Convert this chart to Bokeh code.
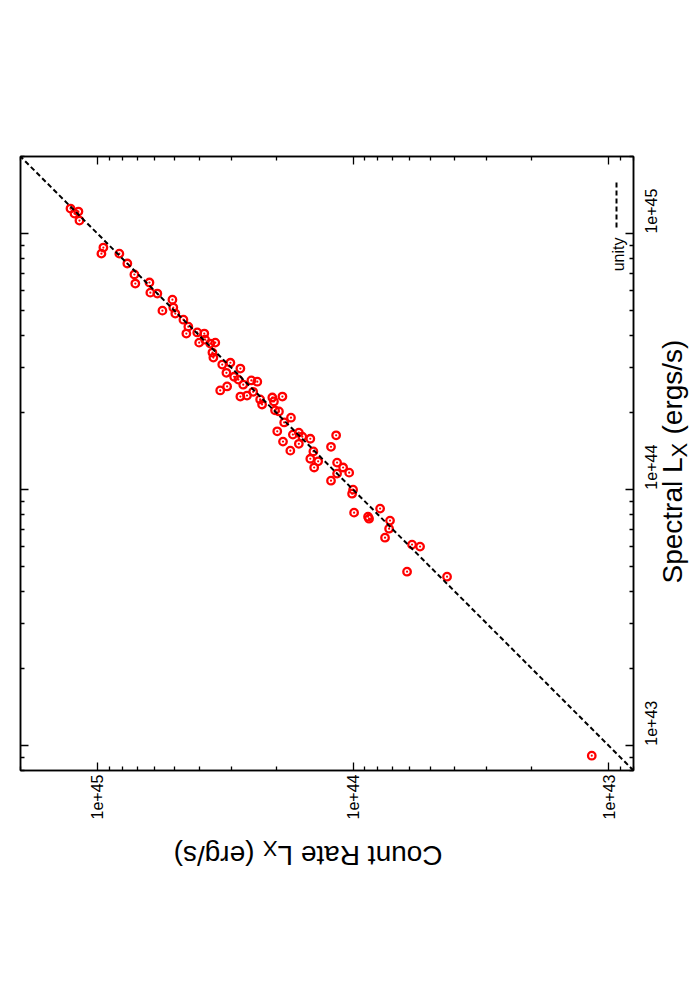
import math
from bokeh.plotting import figure
from bokeh.layouts import row, column
from bokeh.models import (Range1d, LogAxis, FixedTicker, CustomJSTickFormatter,
                          Label, Arrow)
from bokeh.embed import file_html
from bokeh.resources import INLINE

# ---- data (erg/s) ----
spectral_lx = [12.52e44, 11.97e44, 12.19e44, 11.24e44, 8.82e44, 8.35e44, 8.35e44, 7.64e44,
               6.92e44, 6.38e44, 6.44e44, 5.88e44, 5.83e44, 5.52e44, 5.00e44, 5.14e44,
               4.87e44, 4.61e44, 4.33e44, 4.07e44, 4.11e44, 4.07e44, 3.85e44, 3.75e44,
               3.72e44, 3.75e44, 3.43e44, 3.28e44, 3.08e44, 3.13e44, 2.97e44, 2.86e44,
               2.76e44, 2.44e44, 2.53e44, 2.69e44, 2.57e44, 2.67e44, 2.64e44, 2.33e44,
               2.31e44, 2.41e44, 2.15e44, 2.25e44, 2.29e44, 2.21e44, 2.31e44, 2.04e44,
               2.02e44, 1.91e44, 1.83e44, 1.69e44, 1.64e44, 1.67e44, 1.61e44, 1.58e44,
               1.54e44, 1.51e44, 1.42e44, 1.41e44, 1.32e44, 1.29e44, 1.22e44, 1.63e44,
               1.47e44, 1.275e44, 1.22e44, 1.165e44, 1.155e44, 1.084e44, 1.00e44, 0.964e44,
               0.813e44, 0.784e44, 0.770e44, 0.843e44, 0.757e44, 0.704e44, 0.649e44, 0.610e44,
               0.599e44, 0.478e44, 0.457e44, 0.0914e44]
count_rate_lx = [12.75e44, 12.30e44, 11.87e44, 11.76e44, 9.48e44, 9.65e44, 8.21e44, 7.64e44,
                 7.17e44, 7.11e44, 6.26e44, 6.21e44, 5.83e44, 5.09e44, 5.57e44, 5.05e44,
                 4.96e44, 4.61e44, 4.41e44, 4.49e44, 4.07e44, 3.82e44, 3.79e44, 4.00e44,
                 3.62e44, 3.46e44, 3.55e44, 3.52e44, 3.25e44, 3.02e44, 2.76e44, 3.13e44,
                 2.92e44, 3.31e44, 3.11e44, 2.81e44, 2.69e44, 2.50e44, 2.37e44, 2.60e44,
                 2.76e44, 2.46e44, 2.27e44, 2.31e44, 2.07e44, 2.04e44, 1.89e44, 2.02e44,
                 1.95e44, 1.75e44, 1.86e44, 1.98e44, 1.72e44, 1.63e44, 1.58e44, 1.47e44,
                 1.88e44, 1.63e44, 1.76e44, 1.43e44, 1.47e44, 1.37e44, 1.42e44, 1.165e44,
                 1.22e44, 1.155e44, 1.094e44, 1.036e44, 1.155e44, 1.22e44, 1.00e44, 1.009e44,
                 0.991e44, 0.874e44, 0.866e44, 0.784e44, 0.717e44, 0.723e44, 0.750e44, 0.588e44,
                 0.547e44, 0.615e44, 0.429e44, 0.1165e44]
unity = [8.0e42, 2.0e45]
axis_min, axis_max = 8.0e42, 2.0e45
major_ticks = [1e43, 1e44, 1e45]
minor_ticks = [k * 10.0 ** d for d in (42, 43, 44, 45) for k in range(2, 10)]

FONT = "Liberation Sans"
RIGHT_BORDER = 64          # p canvas = 20 + 613 + 64 = 697 wide
BOTTOM_BORDER = 56         # p canvas = 156 + 614 + 56 = 826 tall
TITLE_LEFT = 650           # page x where the right title panel starts

p = figure(frame_width=613, frame_height=614,
           x_axis_type="log", y_axis_type="log",
           x_axis_location="below", y_axis_location="right",
           x_range=Range1d(axis_max, axis_min), y_range=Range1d(axis_min, axis_max),
           min_border_left=20, min_border_top=156, min_border_right=RIGHT_BORDER,
           min_border_bottom=BOTTOM_BORDER, output_backend="svg", toolbar_location=None,
           background_fill_color="white", border_fill_color="white")
p.xgrid.grid_line_color = None
p.ygrid.grid_line_color = None
p.outline_line_color = "black"
p.outline_line_width = 1.5

fmt = CustomJSTickFormatter(code="return tick.toExponential(0);")
blank = CustomJSTickFormatter(code="return '';")


def style_axis(ax, standoff, labels=True):
    ax.ticker = FixedTicker(ticks=major_ticks, minor_ticks=minor_ticks)
    ax.formatter = fmt if labels else blank
    ax.axis_line_color = "black"
    ax.axis_line_width = 1.5
    ax.major_tick_in = 8
    ax.major_tick_out = 0
    ax.minor_tick_in = 4
    ax.minor_tick_out = 0
    ax.major_tick_line_width = 1.3
    ax.minor_tick_line_width = 1.3
    ax.major_tick_line_color = "black"
    ax.minor_tick_line_color = "black"
    ax.major_label_orientation = math.pi / 2
    ax.major_label_text_font = FONT
    ax.major_label_text_color = "black"
    ax.major_label_text_font_size = "16px"
    ax.major_label_standoff = standoff


style_axis(p.xaxis[0], 4)
style_axis(p.yaxis[0], 18)
top_ax = LogAxis()
left_ax = LogAxis()
style_axis(top_ax, 0, labels=False)
style_axis(left_ax, 0, labels=False)
p.add_layout(top_ax, "above")
p.add_layout(left_ax, "left")

# data points: open red circles with a centre dot
p.scatter(count_rate_lx, spectral_lx, marker="circle", size=7.5,
          fill_color=None, line_color="#ff0000", line_width=2.3)
p.scatter(count_rate_lx, spectral_lx, marker="circle", size=2.2,
          fill_color="#ff0000", line_color=None)

# unity line
p.line(unity, unity, line_color="black", line_width=2, line_dash="5 3")

# legend (rotated, drawn by hand inside the frame)
p.add_layout(Label(x=598, y=533, x_units="screen", y_units="screen", text="unity",
                   angle=math.pi / 2, text_align="right", text_baseline="middle",
                   text_font=FONT, text_font_size="16px", text_color="black"))
p.add_layout(Arrow(end=None, x_start=596, y_start=543, x_end=596, y_end=591,
                   start_units="screen", end_units="screen", line_color="black",
                   line_width=2, line_dash="5 3"))


def text_panel(width, height, xr, yr, margin=None):
    f = figure(width=width, height=height, x_range=Range1d(*xr), y_range=Range1d(*yr),
               x_axis_location=None, y_axis_location=None, toolbar_location=None,
               output_backend="svg", min_border=0, outline_line_color=None,
               background_fill_color=None, border_fill_color=None)
    f.grid.visible = False
    if margin is not None:
        f.margin = margin
    return f


def lab(fig, x, y, text, angle, size):
    fig.add_layout(Label(x=x, y=y, text=text, angle=angle, text_align="left",
                         text_baseline="middle", text_font=FONT,
                         text_font_size=size, text_color="black"))


F, FS = "28px", "22px"
p_width = 20 + 613 + RIGHT_BORDER
p_height = 156 + 614 + BOTTOM_BORDER
# right title: Spectral L_X (ergs/s), reading bottom-to-top
# (its frame is aligned with the main frame: page y 156..770)
right_w = 697 - TITLE_LEFT
right_fig = text_panel(right_w, p_height, (TITLE_LEFT, TITLE_LEFT + right_w), (770, 156),
                       margin=(0, 0, 0, TITLE_LEFT - p_width))
lab(right_fig, 672, 583, "Spectral L", math.pi / 2, F)
lab(right_fig, 679, 457, "X", math.pi / 2, FS)
lab(right_fig, 672, 434, "(ergs/s)", math.pi / 2, F)

# bottom title: Count Rate L_X (erg/s), upside down
bottom_fig = text_panel(697, 900 - p_height, (0, 697), (900, p_height))
lab(bottom_fig, 442, 855, "Count Rate L", math.pi, F)
lab(bottom_fig, 277, 848, "X", math.pi, FS)
lab(bottom_fig, 254, 855, "(erg/s)", math.pi, F)

layout = column(row(p, right_fig), bottom_fig)
open("out.html", "w").write(file_html(layout, INLINE))
